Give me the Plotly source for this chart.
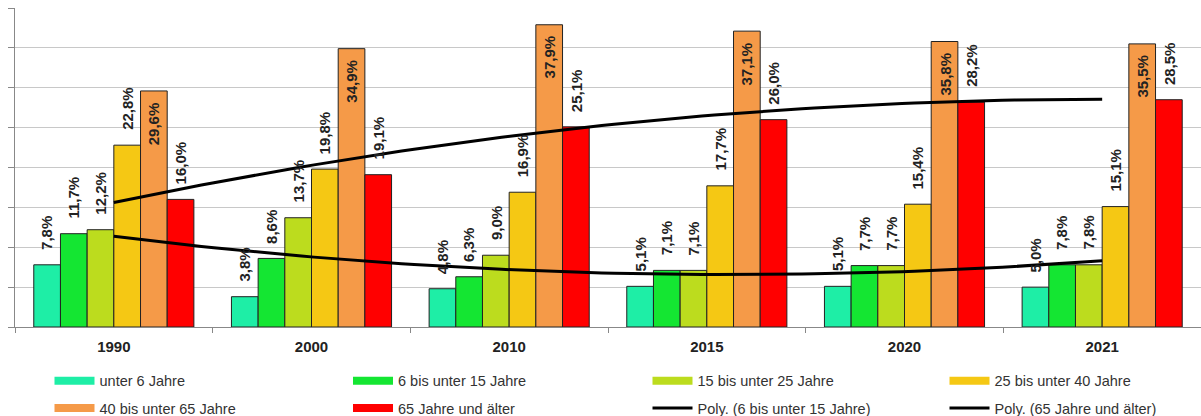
import numpy as np
import plotly.graph_objects as go

years = ["1990", "2000", "2010", "2015", "2020", "2021"]
unter6 = [7.8, 3.8, 4.8, 5.1, 5.1, 5.0]
bis15 = [11.7, 8.6, 6.3, 7.1, 7.7, 7.8]
bis25 = [12.2, 13.7, 9.0, 7.1, 7.7, 7.8]
bis40 = [22.8, 19.8, 16.9, 17.7, 15.4, 15.1]
bis65 = [29.6, 34.9, 37.9, 37.1, 35.8, 35.5]
ab65 = [16.0, 19.1, 25.1, 26.0, 28.2, 28.5]

series_names = ["unter 6 Jahre", "6 bis unter 15 Jahre", "15 bis unter 25 Jahre",
                "25 bis unter 40 Jahre", "40 bis unter 65 Jahre", "65 Jahre und älter"]
series_vals = [unter6, bis15, bis25, bis40, bis65, ab65]
colors = ["#1eeea6", "#14e632", "#bcdc1e", "#f5c814", "#f59a48", "#ff0000"]
trend_names = ["Poly. (6 bis unter 15 Jahre)", "Poly. (65 Jahre und älter)"]

xi = list(range(len(years)))
FONT = "Liberation Sans, Arial, sans-serif"
BARGAP = 0.19
nser = len(series_names)
bw = (1 - BARGAP) / nser

fig = go.Figure()
annotations = []
for k, (name, vals, col) in enumerate(zip(series_names, series_vals, colors)):
    fig.add_trace(go.Bar(
        x=xi, y=vals, name=name, showlegend=False,
        marker=dict(color=col, line=dict(color="#222222", width=1)),
    ))
    inside = name == "40 bis unter 65 Jahre"
    off = -(1 - BARGAP) / 2 + bw * (k + 0.5)
    for i, v in zip(xi, vals):
        annotations.append(dict(
            x=i + off, y=v, xref="x", yref="y",
            text=f"{v:.1f}%".replace(".", ","),
            showarrow=False, textangle=-90,
            xanchor="center", yanchor="top" if inside else "bottom",
            yshift=-9 if inside else 13,
            font=dict(family=FONT, size=15, color="#222222", weight="bold"),
        ))

# polynomial (order 2) trendlines like Excel
xs = np.linspace(0, len(years) - 1, 80)
for tname, vals in zip(trend_names, [bis15, ab65]):
    c = np.polyfit(xi, vals, 2)
    fig.add_trace(go.Scatter(x=xs, y=np.polyval(c, xs), mode="lines",
                             line=dict(color="black", width=3),
                             showlegend=False, hoverinfo="skip"))

# legend entries: 4 columns x 2 rows, one legend per entry
legend_items = list(zip(series_names, colors, [8] * 6)) + \
    [(t, "black", 3) for t in trend_names]
col_px = [49.5, 348, 647.5, 944.5]
row_y = [-0.169, -0.254]
legends = {}
for k, (name, col, w) in enumerate(legend_items):
    lid = "legend" if k == 0 else f"legend{k + 1}"
    fig.add_trace(go.Scatter(x=[None], y=[None], mode="lines", name=name,
                             line=dict(color=col, width=w), legend=lid))
    legends[lid] = dict(orientation="h", itemwidth=40,
                        x=(col_px[k % 4] - 15) / 1186, xanchor="left",
                        y=row_y[k // 4], yanchor="middle",
                        font=dict(family=FONT, size=14.5, color="#333333"),
                        bgcolor="rgba(0,0,0,0)", itemclick=False,
                        itemdoubleclick=False)

fig.update_layout(
    width=1201, height=416,
    margin=dict(l=15, r=0, t=8, b=89, autoexpand=False),
    paper_bgcolor="white", plot_bgcolor="white",
    barmode="group", bargap=BARGAP, bargroupgap=0,
    showlegend=True,
    annotations=annotations,
    xaxis=dict(range=[-0.5, 5.5], tickvals=xi, ticktext=years, ticks="",
               showline=True, linecolor="#888888", linewidth=1,
               showgrid=False, zeroline=False, ticklabelstandoff=6,
               tickfont=dict(family=FONT, size=15, color="#222222", weight="bold"),
               minor=dict(tick0=-0.5, dtick=1, ticks="outside", ticklen=5,
                          tickcolor="#888888", showgrid=False)),
    yaxis=dict(range=[0, 40], dtick=5, showticklabels=False,
               ticks="outside", ticklen=6, tickcolor="#888888",
               showline=True, linecolor="#888888", linewidth=1,
               gridcolor="#c8c8c8", gridwidth=1, zeroline=False),
    **legends,
)

fig.write_html("out.html")
